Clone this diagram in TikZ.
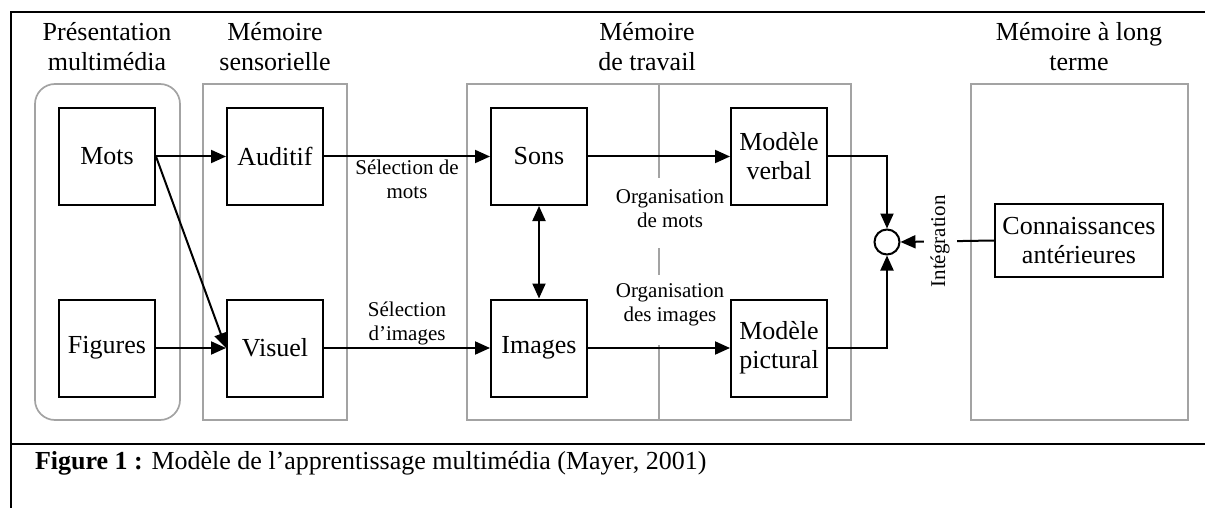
\documentclass[tikz,border=0pt]{standalone}
\usepackage{fontspec}
\setmainfont{Liberation Serif}
\usetikzlibrary{arrows.meta}

\begin{document}
\begin{tikzpicture}[x=0.5pt,y=-0.5pt,
  blk/.style={draw,line width=1pt,minimum width=48pt,minimum height=48.5pt,inner sep=0pt,align=center,font=\fontsize{13}{14.5}\selectfont},
  zone/.style={draw=black!36,line width=0.85pt},
  ttl/.style={align=center,font=\fontsize{13}{15}\selectfont},
  lbl/.style={align=center,font=\fontsize{10.5}{12}\selectfont,inner sep=1pt},
  arr/.style={-{Triangle[length=7.5pt,width=6.5pt]},line width=1pt},
  darr/.style={{Triangle[length=7.5pt,width=6.5pt]}-{Triangle[length=7.5pt,width=6.5pt]},line width=1pt}]
\useasboundingbox (0,0) rectangle (1205,508);

% frame and caption line
\draw[line width=1.2pt] (1205,12) -- (11,12) -- (11,508);
\draw[line width=1.2pt] (11,444) -- (1205,444);

% the four stores
\draw[zone,rounded corners=10pt] (35,84) rectangle (180,420);
\draw[zone] (203,84) rectangle (347,420);
\draw[zone] (467,84) rectangle (851,420);
\draw[zone] (659,84) -- (659,178) (659,248) -- (659,275) (659,345) -- (659,420);
\draw[zone] (971,84) rectangle (1188,420);

\node[ttl] (tpres) at (107,47) {Présentation\\multimédia};
\node[ttl] (tsens) at (275,47) {Mémoire\\sensorielle};
\node[ttl] (ttrav) at (647,47) {Mémoire\\de travail};
\node[ttl] (tlong) at (1079,47) {Mémoire à long\\terme};

% boxes
\node[blk] (mots) at (107,156.5) {Mots};
\node[blk] (figures) at (107,348) {Figures};
\node[blk] (auditif) at (275,156.5) {Auditif};
\node[blk] (visuel) at (275,348) {Visuel};
\node[blk] (sons) at (539,156.5) {Sons};
\node[blk] (images) at (539,348) {Images};
\node[blk] (verbal) at (779,156.5) {Modèle\\verbal};
\node[blk] (pictural) at (779,348) {Modèle\\pictural};
\node[blk,minimum width=84pt,minimum height=36.5pt] (connais) at (1079,240.5) {Connaissances\\antérieures};
\node[circle,draw,line width=1pt,minimum size=12.5pt,inner sep=0pt] (integ) at (887,242) {};

% arrows
\draw[arr] (mots) -- (auditif);
\draw[arr] (mots.east) -- (visuel.west);
\draw[arr] (figures) -- (visuel);
\draw[arr] (auditif) -- node[lbl,below] (selmots) {Sélection de\\mots} (sons);
\draw[arr] (visuel) -- node[lbl,above] (selimg) {Sélection\\d'images} (images);
\draw[darr] (sons) -- (images);
\draw[arr] (sons) -- (verbal);
\draw[arr] (images) -- (pictural);
\node[lbl] (orgmots) at (670,209) {Organisation\\de mots};
\node[lbl] (orgimg) at (670,305) {Organisation\\des images};
\draw[arr] (verbal.east) -| (integ.north);
\draw[arr] (pictural.east) -| (integ.south);
\draw[arr] (connais.west) -- node[lbl,rotate=90,fill=white,inner sep=3.5pt,pos=0.576] (intlbl) {Intégration} (integ.east);

\node[anchor=west,font=\fontsize{13}{15}\selectfont] (caption) at (28,463) {\textbf{Figure 1 :} Modèle de l'apprentissage multimédia (Mayer, 2001)};
\end{tikzpicture}
\end{document}
